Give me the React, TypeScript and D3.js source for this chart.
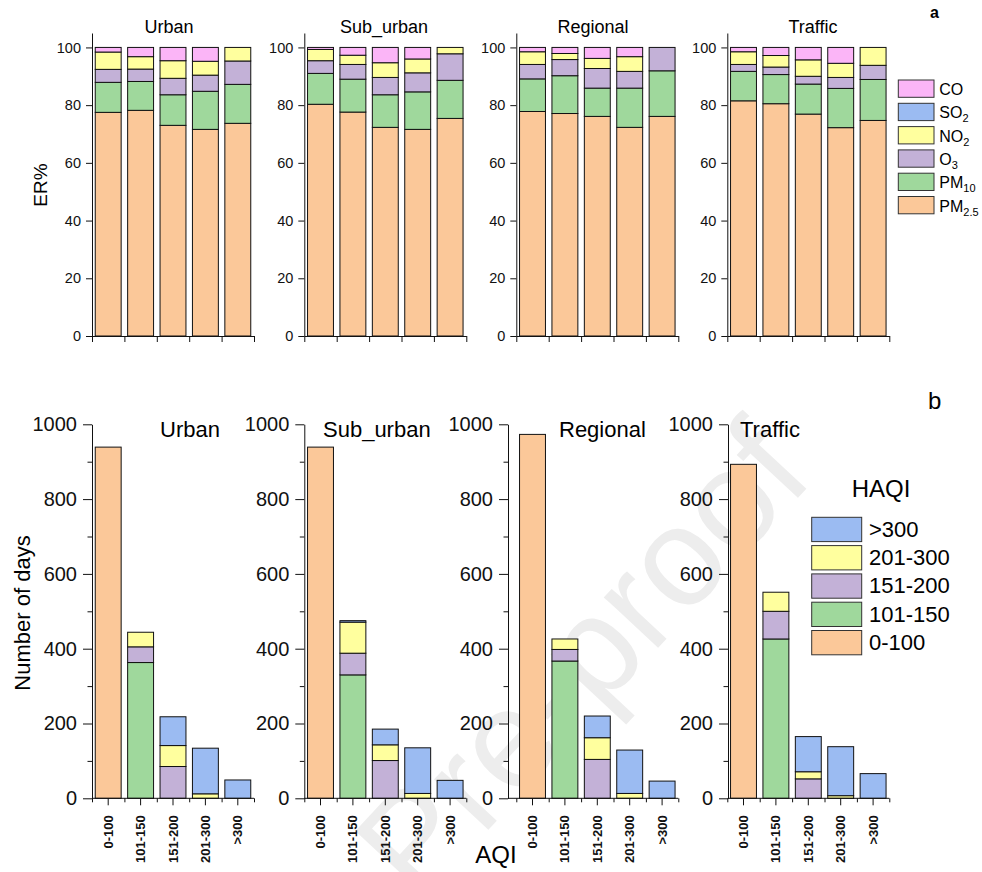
import React, { useEffect, useRef } from 'react';
import * as d3 from 'd3';

const sites = ['Urban', 'Sub_urban', 'Regional', 'Traffic'];
const aqiCategories = ['0-100', '101-150', '151-200', '201-300', '>300'];
const pollutants = ['PM2.5', 'PM10', 'O3', 'NO2', 'SO2', 'CO'];
const pollutantLabels = [['PM', '2.5'], ['PM', '10'], ['O', '3'], ['NO', '2'], ['SO', '2'], ['CO', '']];
const haqiLabels = ['0-100', '101-150', '151-200', '201-300', '>300'];
const erTicks = [0, 20, 40, 60, 80, 100];
const dayTicks = [0, 200, 400, 600, 800, 1000];
const dayMinorTicks = [100, 300, 500, 700, 900];

// ER% per bar, stacked bottom -> top: PM2.5, PM10, O3, NO2, SO2, CO
const erUrban = [
  [77.5, 10.4, 4.5, 6.0, 0, 1.6],
  [78.2, 10.0, 4.3, 4.3, 0, 3.2],
  [73.0, 10.6, 5.7, 6.1, 0, 4.6],
  [71.6, 13.2, 5.6, 4.8, 0, 4.8],
  [73.7, 13.5, 8.1, 4.7, 0, 0],
];
const erSubUrban = [
  [80.3, 10.7, 4.4, 3.9, 0, 0.7],
  [77.6, 11.4, 5.1, 3.2, 0, 2.7],
  [72.3, 11.3, 6.0, 5.1, 0, 5.3],
  [71.6, 13.0, 6.6, 4.8, 0, 4.0],
  [75.4, 13.2, 9.2, 2.2, 0, 0],
];
const erRegional = [
  [77.8, 11.3, 5.0, 4.4, 0, 1.5],
  [77.1, 13.1, 5.6, 2.1, 0, 2.1],
  [76.1, 9.8, 6.8, 3.5, 0, 3.8],
  [72.3, 13.6, 5.8, 5.1, 0, 3.2],
  [76.1, 15.8, 8.1, 0, 0, 0],
];
const erTraffic = [
  [81.5, 10.2, 2.4, 4.4, 0, 1.5],
  [80.5, 10.1, 2.6, 4.0, 0, 2.8],
  [76.9, 10.4, 2.7, 5.7, 0, 4.3],
  [72.2, 13.6, 3.8, 4.9, 0, 5.5],
  [74.7, 14.2, 4.9, 6.2, 0, 0],
];

// number of days per AQI class, split by HAQI class: 0-100, 101-150, 151-200, 201-300, >300
const daysUrban = [
  [939, 0, 0, 0, 0],
  [0, 363, 42, 39, 0],
  [0, 0, 85, 56, 77],
  [0, 0, 0, 12, 122],
  [0, 0, 0, 0, 49],
];
const daysSubUrban = [
  [939, 0, 0, 0, 0],
  [0, 330, 58, 83, 4],
  [0, 0, 101, 42, 42],
  [0, 0, 0, 13, 122],
  [0, 0, 0, 0, 48],
];
const daysRegional = [
  [973, 0, 0, 0, 0],
  [0, 367, 31, 28, 0],
  [0, 0, 104, 58, 58],
  [0, 0, 0, 13, 116],
  [0, 0, 0, 0, 46],
];
const daysTraffic = [
  [893, 0, 0, 0, 0],
  [0, 426, 74, 51, 0],
  [0, 0, 52, 19, 94],
  [0, 0, 0, 7, 131],
  [0, 0, 0, 0, 66],
];

const erData = [erUrban, erSubUrban, erRegional, erTraffic];
const daysData = [daysUrban, daysSubUrban, daysRegional, daysTraffic];

const colors = ['#fbc899', '#9fd89c', '#c3b1d7', '#ffff9e', '#9bbbf2', '#fbb5f7'];
const FONT = "'Liberation Sans', Arial, Helvetica, sans-serif";

// layout
const panelX = [92, 304.3, 516.3, 727.3];
const panelW = 162;
const bottomAxisX = [92, 304.3, 508, 728];
const topTitleX = [169, 384, 593, 813];
const bottomTitleX = [160, 323, 559, 740];

const drawStack = (g, rows, keys, x, y) => {
  const table = rows.map((r, i) => {
    const o = { cat: aqiCategories[i] };
    keys.forEach((k, j) => { o[k] = r[j]; });
    return o;
  });
  const series = d3.stack().keys(keys)(table);
  series.forEach((s, si) => {
    g.append('g')
      .selectAll('rect')
      .data(s.filter(d => d[1] - d[0] > 0))
      .join('rect')
      .attr('x', d => x(d.data.cat))
      .attr('width', x.bandwidth())
      .attr('y', d => y(d[1]))
      .attr('height', d => y(d[0]) - y(d[1]))
      .attr('fill', colors[si])
      .attr('stroke', '#111')
      .attr('stroke-width', 1);
  });
};

const styleAxis = (g, size, bold = false) => {
  g.attr('font-family', FONT).attr('font-size', size);
  g.selectAll('text').attr('fill', '#111').attr('font-weight', bold ? 'bold' : 'normal');
  g.selectAll('line,path').attr('stroke', '#111');
};

const App = () => {
  const svgRef = useRef(null);

  useEffect(() => {
    const svg = d3.select(svgRef.current);
    svg.selectAll('*').remove();

    // faint watermark behind the chart
    svg.append('text')
      .attr('transform', 'translate(418,905) rotate(-47)')
      .attr('font-family', FONT)
      .attr('font-size', 140)
      .attr('fill', '#ededed')
      .text('Pre-proof');

    // ---- panel a: ER% ----
    const topY = d3.scaleLinear().domain([0, 105]).range([336, 33]);

    sites.forEach((site, i) => {
      const x0 = panelX[i];
      const x = d3.scaleBand().domain(aqiCategories)
        .range([x0, x0 + panelW]).paddingInner(0.2).paddingOuter(0.1);
      const xb = d3.scaleLinear().domain([0, 5]).range([x0, x0 + panelW]);
      const g = svg.append('g');

      drawStack(g, erData[i], pollutants, x, topY);

      g.append('g')
        .attr('transform', `translate(${x0},0)`)
        .call(d3.axisLeft(topY).tickValues(erTicks).tickSize(6).tickSizeOuter(0).tickPadding(5))
        .call(s => styleAxis(s, 14.5));

      g.append('g')
        .attr('transform', 'translate(0,336)')
        .call(d3.axisBottom(xb).tickValues(d3.range(6)).tickSize(6).tickSizeOuter(0).tickFormat(() => ''))
        .call(s => styleAxis(s, 14));

      g.append('text')
        .attr('x', topTitleX[i]).attr('y', 33)
        .attr('text-anchor', 'middle')
        .attr('font-family', FONT).attr('font-size', 18)
        .text(site);
    });

    svg.append('text')
      .attr('transform', 'translate(47,185) rotate(-90)')
      .attr('text-anchor', 'middle')
      .attr('font-family', FONT).attr('font-size', 19)
      .text('ER%');

    svg.append('text')
      .attr('x', 930).attr('y', 18)
      .attr('font-family', FONT).attr('font-size', 16).attr('font-weight', 'bold')
      .text('a');

    // legend a (CO on top)
    const legA = svg.append('g').attr('font-family', FONT);
    const orderA = d3.range(pollutants.length).reverse();
    orderA.forEach((k, r) => {
      const top = 80 + r * 23.3;
      legA.append('rect')
        .attr('x', 898.3).attr('y', top).attr('width', 35.7).attr('height', 17.3)
        .attr('fill', colors[k]).attr('stroke', '#333');
      const t = legA.append('text').attr('x', 939.3).attr('y', top + 15).attr('font-size', 16);
      t.append('tspan').text(pollutantLabels[k][0]);
      if (pollutantLabels[k][1]) {
        t.append('tspan').attr('font-size', 11).attr('dy', 4).text(pollutantLabels[k][1]);
      }
    });

    // ---- panel b: number of days ----
    const botY = d3.scaleLinear().domain([0, 1000]).range([798.3, 424.3]);

    sites.forEach((site, i) => {
      const x0 = panelX[i];
      const ax = bottomAxisX[i];
      const x = d3.scaleBand().domain(aqiCategories)
        .range([x0, x0 + panelW]).paddingInner(0.2).paddingOuter(0.1);
      const xb = d3.scaleLinear().domain([0, 5]).range([x0, x0 + panelW]);
      const g = svg.append('g');

      drawStack(g, daysData[i], haqiLabels, x, botY);

      g.append('g')
        .attr('transform', `translate(${ax},0)`)
        .call(d3.axisLeft(botY).tickValues(dayTicks).tickFormat(d3.format('d'))
          .tickSize(9).tickSizeOuter(0).tickPadding(6))
        .call(s => styleAxis(s, 20));

      g.append('g')
        .attr('transform', `translate(${ax},0)`)
        .call(d3.axisLeft(botY).tickValues(dayMinorTicks).tickSize(4.5).tickFormat(() => ''))
        .call(s => s.select('.domain').remove())
        .call(s => styleAxis(s, 20));

      g.append('line')
        .attr('x1', ax).attr('x2', x0 + panelW)
        .attr('y1', botY(0)).attr('y2', botY(0))
        .attr('stroke', '#111');

      g.append('g')
        .attr('transform', `translate(0,${botY(0)})`)
        .call(d3.axisBottom(xb).tickValues(d3.range(6)).tickSize(4).tickFormat(() => ''))
        .call(s => s.select('.domain').remove())
        .call(s => styleAxis(s, 13));

      g.append('g')
        .attr('transform', `translate(0,${botY(0)})`)
        .call(d3.axisBottom(x).tickSize(7).tickSizeOuter(0))
        .call(s => s.select('.domain').remove())
        .call(s => styleAxis(s, 13, true))
        .call(s => s.selectAll('text')
          .attr('transform', 'rotate(-90)')
          .attr('text-anchor', 'end')
          .attr('x', -17).attr('y', 0).attr('dy', '0.35em'));

      g.append('text')
        .attr('x', bottomTitleX[i]).attr('y', 436.5)
        .attr('font-family', FONT).attr('font-size', 22)
        .text(site);
    });

    svg.append('text')
      .attr('transform', 'translate(30,613) rotate(-90)')
      .attr('text-anchor', 'middle')
      .attr('font-family', FONT).attr('font-size', 22)
      .text('Number of days');

    svg.append('text')
      .attr('x', 496).attr('y', 863)
      .attr('text-anchor', 'middle')
      .attr('font-family', FONT).attr('font-size', 24)
      .text('AQI');

    svg.append('text')
      .attr('x', 928).attr('y', 409)
      .attr('font-family', FONT).attr('font-size', 24)
      .text('b');

    // legend b (>300 on top)
    const legB = svg.append('g').attr('font-family', FONT);
    legB.append('text')
      .attr('x', 851.7).attr('y', 496.7)
      .attr('font-size', 24)
      .text('HAQI');
    d3.range(haqiLabels.length).reverse().forEach((k, r) => {
      const top = 517.3 + r * 28.3;
      legB.append('rect')
        .attr('x', 811.7).attr('y', top).attr('width', 50).attr('height', 24.3)
        .attr('fill', colors[k]).attr('stroke', '#333');
      legB.append('text')
        .attr('x', 869).attr('y', top + 19.4)
        .attr('font-size', 22)
        .text(haqiLabels[k]);
    });
  }, []);

  return (
    <svg
      ref={svgRef}
      width={982}
      height={872}
      style={{ position: 'absolute', left: 0, top: 0, background: '#fff' }}
    />
  );
};

export default App;
